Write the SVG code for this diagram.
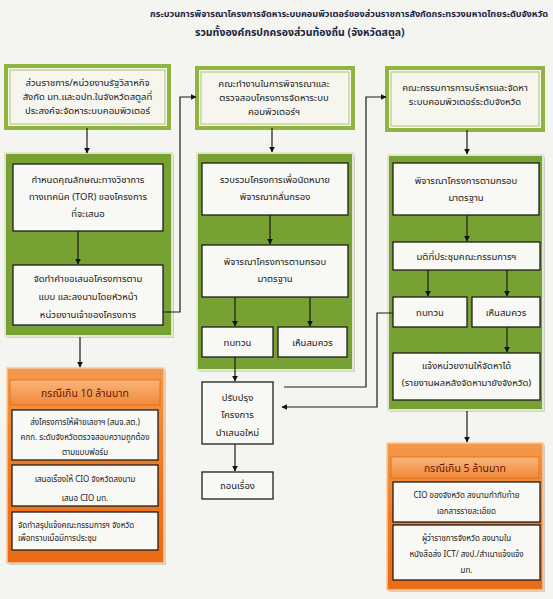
<svg xmlns="http://www.w3.org/2000/svg" width="553" height="599" viewBox="0 0 553 599">
<defs>
<marker id="ah" viewBox="0 0 10 10" refX="9" refY="5" markerWidth="6" markerHeight="6" orient="auto" markerUnits="userSpaceOnUse"><path d="M0,0 L10,5 L0,10 z" fill="#111"/></marker>
<linearGradient id="og" x1="0" y1="0" x2="0" y2="1"><stop offset="0" stop-color="#f39a4e"/><stop offset="0.5" stop-color="#f07a22"/><stop offset="1" stop-color="#ea6c14"/></linearGradient>
<linearGradient id="hg" x1="0" y1="0" x2="0" y2="1"><stop offset="0" stop-color="#fbb47a"/><stop offset="1" stop-color="#f08a3a"/></linearGradient>
<style>
text{font-family:Tahoma,"Noto Sans Thai","Noto Sans","DejaVu Sans",sans-serif;fill:#1a1a1a;}
.t{font-size:9.5px;text-anchor:middle;}
.s{font-size:8px;text-anchor:middle;}
.sl{font-size:8px;}
.ttl{font-size:9px;font-weight:bold;fill:#1c2540;}
.ttl2{font-size:10.5px;font-weight:bold;fill:#1c2540;}
.hd{font-size:10.5px;text-anchor:middle;fill:#6a1600;}
.top{fill:#f6f6ef;stroke:#8fb43f;stroke-width:4;}
.topin{fill:none;stroke:#a8c86a;stroke-width:1;}
.panel{fill:#78a133;stroke:#dfe8cf;stroke-width:2;}
.sh{fill:#cfd2c8;}
.wb{fill:#f8f8f4;stroke:#1e1e1e;stroke-width:1.3;}
.org{fill:url(#og);stroke:#f6c9a0;stroke-width:1.5;}
.hdr{fill:url(#hg);stroke:#e06a10;stroke-width:0.8;}
.ln{fill:none;stroke:#1a1a1a;stroke-width:1.2;}
.ar{fill:none;stroke:#1a1a1a;stroke-width:1.2;marker-end:url(#ah);}
</style>
</defs>
<rect x="0" y="0" width="553" height="599" fill="#f4f4f0"/>
<g id="title">
<text class="ttl" x="150" y="17" textLength="398" lengthAdjust="spacingAndGlyphs">กระบวนการพิจารณาโครงการจัดหาระบบคอมพิวเตอร์ของส่วนราชการสังกัดกระทรวงมหาดไทยระดับจังหวัด</text>
<text class="ttl2" x="195" y="36">รวมทั้งองค์กรปกครองส่วนท้องถิ่น (จังหวัดสตูล)</text>
</g>

<!-- Column 1 -->
<g id="c1-top">
<rect class="top" x="6" y="66" width="163" height="62"/>
<rect class="topin" x="10" y="70" width="155" height="54"/>
<text class="t" x="87.5" y="86">ส่วนราชการ/หน่วยงานรัฐวิสาหกิจ</text>
<text class="t" x="87.5" y="100">สังกัด มท.และอปท.ในจังหวัดสตูลที่</text>
<text class="t" x="87.5" y="114">ประสงค์จะจัดหาระบบคอมพิวเตอร์</text>
</g>
<g id="c1-panel">
<rect class="sh" x="7" y="155" width="167" height="183"/>
<rect class="panel" x="5" y="153" width="167" height="183"/>
</g>
<g id="c1-tor">
<rect class="wb" x="13" y="164" width="150" height="67"/>
<text class="t" x="88" y="183">กำหนดคุณลักษณะทางวิชาการ</text>
<text class="t" x="88" y="200">ทางเทคนิค (TOR) ของโครงการ</text>
<text class="t" x="88" y="217">ที่จะเสนอ</text>
</g>
<g id="c1-request">
<rect class="wb" x="13" y="265" width="150" height="60"/>
<text class="t" x="88" y="282">จัดทำคำขอเสนอโครงการตาม</text>
<text class="t" x="88" y="300">แบบ และลงนามโดยหัวหน้า</text>
<text class="t" x="88" y="318">หน่วยงานเจ้าของโครงการ</text>
</g>
<g id="c1-orange">
<rect class="sh" x="9" y="370" width="157" height="195"/>
<rect class="org" x="7" y="368" width="157" height="195"/>
<rect class="hdr" x="10" y="380" width="150" height="25"/>
<text class="hd" x="85" y="397">กรณีเกิน 10 ล้านบาท</text>
<rect class="wb" x="12" y="410" width="146" height="50"/>
<text class="s" x="85" y="425">ส่งโครงการให้ฝ่ายเลขาฯ (สนจ.สต.)</text>
<text class="s" x="85" y="440">คกก. ระดับจังหวัดตรวจสอบความถูกต้อง</text>
<text class="s" x="85" y="455">ตามแบบฟอร์ม</text>
<rect class="wb" x="12" y="465" width="146" height="41"/>
<text class="s" x="85" y="482">เสนอเรื่องให้ CIO จังหวัดลงนาม</text>
<text class="s" x="85" y="501">เสนอ CIO มท.</text>
<rect class="wb" x="12" y="512" width="146" height="38"/>
<text class="sl" x="18" y="528">จัดทำสรุปแจ้งคณะกรรมการฯ จังหวัด</text>
<text class="sl" x="18" y="541">เพื่อทราบเมื่อมีการประชุม</text>
</g>

<!-- Column 2 -->
<g id="c2-top">
<rect class="top" x="197" y="68" width="156" height="60"/>
<rect class="topin" x="201" y="72" width="148" height="52"/>
<text class="t" x="274" y="87">คณะทำงานในการพิจารณาและ</text>
<text class="t" x="274" y="101">ตรวจสอบโครงการจัดหาระบบ</text>
<text class="t" x="274" y="115">คอมพิวเตอร์ฯ</text>
</g>
<g id="c2-panel">
<rect class="sh" x="199" y="155" width="156" height="217"/>
<rect class="panel" x="197" y="153" width="156" height="217"/>
</g>
<g id="c2-collect">
<rect class="wb" x="202" y="163" width="146" height="52"/>
<text class="t" x="275" y="183">รวบรวมโครงการเพื่อนัดหมาย</text>
<text class="t" x="275" y="200">พิจารณากลั่นกรอง</text>
</g>
<g id="c2-consider">
<rect class="wb" x="202" y="245" width="146" height="52"/>
<text class="t" x="275" y="265">พิจารณาโครงการตามกรอบ</text>
<text class="t" x="275" y="282">มาตรฐาน</text>
</g>
<g id="c2-review">
<rect class="wb" x="202" y="327" width="71" height="30"/>
<text class="t" x="237.5" y="346">ทบทวน</text>
</g>
<g id="c2-approve">
<rect class="wb" x="278" y="327" width="69" height="30"/>
<text class="t" x="312.5" y="346">เห็นสมควร</text>
</g>
<g id="c2-improve">
<rect class="wb" x="202" y="382" width="71" height="62"/>
<text class="t" x="237.5" y="401">ปรับปรุง</text>
<text class="t" x="237.5" y="418">โครงการ</text>
<text class="t" x="237.5" y="436">นำเสนอใหม่</text>
</g>
<g id="c2-withdraw">
<rect class="wb" x="202" y="472" width="71" height="27"/>
<text class="t" x="237.5" y="489">ถอนเรื่อง</text>
</g>

<!-- Column 3 -->
<g id="c3-top">
<rect class="top" x="387" y="68" width="156" height="62"/>
<rect class="topin" x="391" y="72" width="148" height="54"/>
<text class="t" x="465" y="91">คณะกรรมการการบริหารและจัดหา</text>
<text class="t" x="465" y="105">ระบบคอมพิวเตอร์ระดับจังหวัด</text>
</g>
<g id="c3-panel">
<rect class="sh" x="390" y="157" width="155" height="255"/>
<rect class="panel" x="388" y="155" width="155" height="255"/>
</g>
<g id="c3-consider">
<rect class="wb" x="393" y="163" width="146" height="52"/>
<text class="t" x="466" y="184">พิจารณาโครงการตามกรอบ</text>
<text class="t" x="466" y="201">มาตรฐาน</text>
</g>
<g id="c3-resolution">
<rect class="wb" x="393" y="242" width="147" height="28"/>
<text class="t" x="466.5" y="260">มติที่ประชุมคณะกรรมการฯ</text>
</g>
<g id="c3-review">
<rect class="wb" x="393" y="297" width="74" height="30"/>
<text class="t" x="430" y="316">ทบทวน</text>
</g>
<g id="c3-approve">
<rect class="wb" x="472" y="297" width="68" height="30"/>
<text class="t" x="506" y="316">เห็นสมควร</text>
</g>
<g id="c3-notify">
<rect class="wb" x="393" y="353" width="147" height="47"/>
<text class="t" x="466.5" y="369">แจ้งหน่วยงานให้จัดหาได้</text>
<text class="t" x="466.5" y="386">(รายงานผลหลังจัดหามายังจังหวัด)</text>
</g>
<g id="c3-orange">
<rect class="sh" x="389" y="445" width="156" height="147"/>
<rect class="org" x="387" y="443" width="156" height="147"/>
<rect class="hdr" x="391" y="457" width="148" height="21"/>
<text class="hd" x="465" y="472">กรณีเกิน 5 ล้านบาท</text>
<rect class="wb" x="393" y="482" width="147" height="40"/>
<text class="s" x="466.5" y="498">CIO  ของจังหวัด ลงนามกำกับท้าย</text>
<text class="s" x="466.5" y="514">เอกสารรายละเอียด</text>
<rect class="wb" x="393" y="525" width="147" height="55"/>
<text class="s" x="466.5" y="541">ผู้ว่าราชการจังหวัด ลงนามใน</text>
<text class="s" x="466.5" y="557">หนังสือส่ง ICT/ สงป./สำเนาแจ้งแจ้ง</text>
<text class="s" x="466.5" y="573">มท.</text>
</g>

<g id="connectors">
<line class="ar" x1="87" y1="128" x2="87" y2="153"/>
<line class="ar" x1="78" y1="231" x2="78" y2="264"/>
<polyline class="ar" points="163,312 180,312 180,97 196,97"/>
<line class="ar" x1="80" y1="337" x2="80" y2="367"/>
<line class="ar" x1="272" y1="128" x2="272" y2="152"/>
<line class="ar" x1="270" y1="215" x2="270" y2="244"/>
<line class="ar" x1="235" y1="297" x2="235" y2="326"/>
<line class="ar" x1="310" y1="297" x2="310" y2="326"/>
<line class="ar" x1="235" y1="357" x2="235" y2="381"/>
<line class="ar" x1="235" y1="444" x2="235" y2="471"/>
<polyline class="ar" points="284,387 366,387 366,97 386,97"/>
<polyline class="ar" points="393,313 377,313 377,407 282,407"/>
<line class="ar" x1="467" y1="130" x2="467" y2="154"/>
<line class="ar" x1="467" y1="215" x2="467" y2="241"/>
<line class="ar" x1="428" y1="270" x2="428" y2="296"/>
<line class="ar" x1="507" y1="270" x2="507" y2="296"/>
<line class="ar" x1="507" y1="327" x2="507" y2="352"/>
<line class="ar" x1="467" y1="411" x2="467" y2="442"/>
</g>
</svg>
